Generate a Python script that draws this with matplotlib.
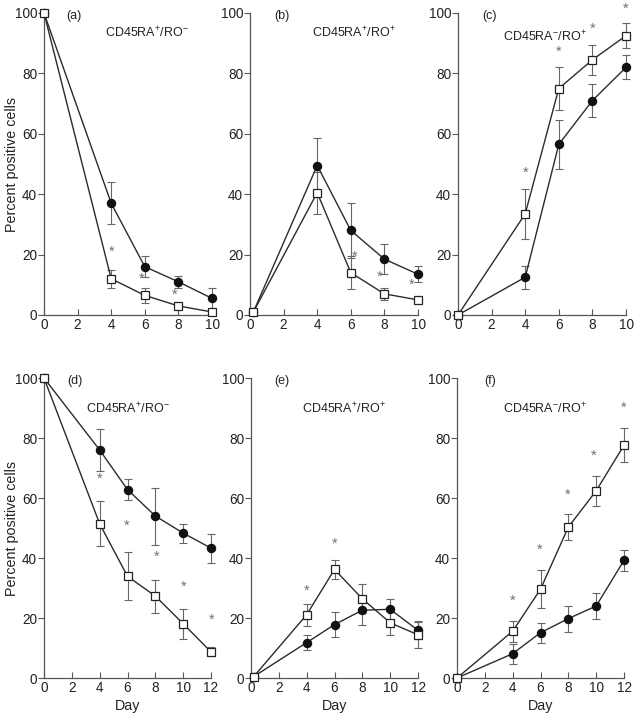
import matplotlib
matplotlib.use("Agg")
import matplotlib.pyplot as plt

plt.rcParams['font.family'] = ['Liberation Sans', 'DejaVu Sans']
plt.rcParams['mathtext.fontset'] = 'custom'
plt.rcParams['mathtext.rm'] = 'Liberation Sans'
plt.rcParams['mathtext.default'] = 'regular'

# ---------------- data ----------------
days_top = [0, 4, 6, 8, 10]
days_bot = [0, 4, 6, 8, 10, 12]
days_b = [0.2, 4, 6, 8, 10]
days_e = [0.2, 4, 6, 8, 10, 12]

# panel (a) CD45RA+/RO-
a_circ = [100, 37, 16, 11, 5.5]
a_circ_err = [0, 7, 3.5, 2, 3.5]
a_sq = [100, 12, 6.5, 3, 1]
a_sq_err = [0, 3, 2.5, 1, 0.5]
a_star_x = [4.0, 5.8, 7.8]
a_star_y = [21, 12, 6.6]

# panel (b) CD45RA+/RO+
b_circ = [1, 49.5, 28, 18.5, 13.5]
b_circ_err = [0, 9, 9, 5, 2.7]
b_sq = [1, 40.5, 14, 7, 5]
b_sq_err = [0, 7, 5.5, 2, 1]
b_star_x = [6.25, 7.7, 9.65]
b_star_y = [19.3, 12.7, 10]

# panel (c) CD45RA-/RO+
c_circ = [0, 12.5, 56.5, 71, 82]
c_circ_err = [0, 3.8, 8, 5.5, 4]
c_sq = [0, 33.5, 75, 84.5, 92.5]
c_sq_err = [0, 8.3, 7, 5, 4.2]
c_star_x = [4.0, 6.0, 8.0, 10.0]
c_star_y = [47, 87, 94.7, 101.5]

# panel (d) CD45RA+/RO-
d_circ = [100, 76, 62.8, 54, 48.3, 43.3]
d_circ_err = [0, 7, 3.4, 9.5, 3.2, 4.8]
d_sq = [100, 51.4, 33.9, 27.3, 18.1, 8.7]
d_sq_err = [0, 7.5, 8, 5.5, 5, 1.5]
d_star_x = [4.0, 5.96, 8.1, 10.06, 12.05]
d_star_y = [66.4, 50.9, 40.3, 30.3, 19.4]

# panel (e) CD45RA+/RO+
e_circ = [0.5, 11.8, 17.8, 22.6, 22.9, 15.9]
e_circ_err = [0, 2.4, 4.1, 4.8, 3.6, 3]
e_sq = [0.5, 21.1, 36.2, 26.4, 18.4, 14.4]
e_sq_err = [0, 3.6, 3.3, 4.8, 4, 4.4]
e_star_x = [4.03, 6.0]
e_star_y = [29.2, 44.8]

# panel (f) CD45RA-/RO+
f_circ = [0, 8.1, 15.1, 19.8, 24, 39.2]
f_circ_err = [0, 3.3, 3.4, 4.3, 4.2, 3.4]
f_sq = [0, 15.6, 29.6, 50.3, 62.4, 77.6]
f_sq_err = [0, 3.5, 6.3, 4.3, 4.9, 5.6]
f_star_x = [3.98, 5.95, 7.94, 9.84, 11.95]
f_star_y = [25.6, 42.6, 61.1, 74, 90]

panel_letters = ['(a)', '(b)', '(c)', '(d)', '(e)', '(f)']
panel_titles = [r'CD45RA$^{+}$/RO$^{-}$', r'CD45RA$^{+}$/RO$^{+}$', r'CD45RA$^{-}$/RO$^{+}$',
                r'CD45RA$^{+}$/RO$^{-}$', r'CD45RA$^{+}$/RO$^{+}$', r'CD45RA$^{-}$/RO$^{+}$']
yticks = [0, 20, 40, 60, 80, 100]
xticks_top = [0, 2, 4, 6, 8, 10]
xticks_bot = [0, 2, 4, 6, 8, 10, 12]

panels = [
    (days_top, a_circ, a_circ_err, a_sq, a_sq_err, a_star_x, a_star_y),
    (days_b, b_circ, b_circ_err, b_sq, b_sq_err, b_star_x, b_star_y),
    (days_top, c_circ, c_circ_err, c_sq, c_sq_err, c_star_x, c_star_y),
    (days_bot, d_circ, d_circ_err, d_sq, d_sq_err, d_star_x, d_star_y),
    (days_e, e_circ, e_circ_err, e_sq, e_sq_err, e_star_x, e_star_y),
    (days_bot, f_circ, f_circ_err, f_sq, f_sq_err, f_star_x, f_star_y),
]

# ---------------- layout ----------------
W, H = 635, 714
fig = plt.figure(figsize=(W / 100, H / 100), dpi=100)

top_lefts = [44, 250, 458]
bot_lefts = [44, 251, 457]
boxes = []
for l in top_lefts:
    boxes.append((l / W, (H - 315) / H, 168 / W, 302 / H))
for l in bot_lefts:
    boxes.append((l / W, (H - 678) / H, 167 / W, 300 / H))

letter_pos = [(1.8, 99), (1.9, 99), (1.9, 99), (2.2, 99), (2.2, 99), (2.4, 99)]
title_pos = [(6.1, 93.5), (6.2, 93.5), (5.2, 92), (6.0, 89.8), (6.7, 89.8), (6.3, 89.8)]

line_c = '#2b2b2b'
axis_c = '#555555'
err_c = '#666666'
star_c = '#707070'
txt_c = '#222222'
fs = 9.8

for i, (box, pdata) in enumerate(zip(boxes, panels)):
    days, circ, circ_err, sq, sq_err, sx, sy = pdata
    ax = fig.add_axes(box)
    xmax = 10 if i < 3 else 12
    ax.set_xlim(0, xmax)
    ax.set_ylim(0, 100)
    for s in ['top', 'right']:
        ax.spines[s].set_visible(False)
    for s in ['left', 'bottom']:
        ax.spines[s].set_color(axis_c)
        ax.spines[s].set_linewidth(0.9)
    ax.set_yticks(yticks)
    ax.set_xticks(xticks_top if i < 3 else xticks_bot)
    ax.tick_params(axis='y', direction='out', length=4, width=0.8, color=axis_c,
                   labelsize=fs, pad=1, labelcolor=txt_c)
    ax.tick_params(axis='x', direction='in', length=4, width=0.8, color=axis_c,
                   labelsize=fs, pad=2, labelcolor=txt_c)

    ax.errorbar(days, circ, yerr=circ_err, fmt='none', ecolor=err_c, elinewidth=0.8,
                capsize=2.8, capthick=0.8, clip_on=False, zorder=2)
    ax.errorbar(days, sq, yerr=sq_err, fmt='none', ecolor=err_c, elinewidth=0.8,
                capsize=2.8, capthick=0.8, clip_on=False, zorder=2)
    ax.plot(days, circ, '-', color=line_c, lw=1.0, marker='o', ms=5.8,
            mfc='#111111', mec='#111111', clip_on=False, zorder=3)
    ax.plot(days, sq, '-', color=line_c, lw=1.0, marker='s', ms=5.2,
            mfc='white', mec='#222222', mew=0.9, clip_on=False, zorder=4)
    for x, y in zip(sx, sy):
        ax.text(x, y, '*', color=star_c, fontsize=10.5, ha='center', va='center',
                clip_on=False)

    lx, ly = letter_pos[i]
    ax.text(lx, ly, panel_letters[i], fontsize=9, ha='center', va='center', color=txt_c)
    tx, ty = title_pos[i]
    ax.text(tx, ty, panel_titles[i], fontsize=9, ha='center', va='center', color=txt_c)

    if i in (0, 3):
        ax.set_ylabel('Percent positive cells', fontsize=10.3, color=txt_c)
        ax.yaxis.set_label_coords(-0.15, 0.5)
    if i >= 3:
        ax.set_xlabel('Day', fontsize=10.3, labelpad=3, color=txt_c)

fig.savefig('out.png', dpi=100, facecolor='white')
